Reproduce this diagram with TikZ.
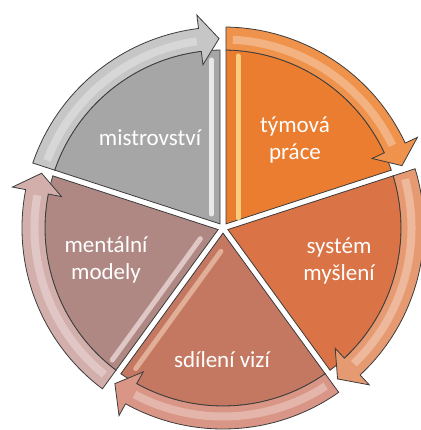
\documentclass[tikz,border=0pt]{standalone}
\usepackage{fontspec}
\usetikzlibrary{calc}
\newfontfamily\carlito{Carlito}
\definecolor{edgegray}{HTML}{3C3C3C}
\definecolor{grayfill}{HTML}{A6A6A6}
\definecolor{grayband}{HTML}{C6C6C6}
\definecolor{orangefill}{HTML}{EA7D30}
\definecolor{orangeband}{HTML}{EF924B}
\definecolor{rustfill}{HTML}{DA7346}
\definecolor{rustband}{HTML}{E69A72}
\definecolor{clayfill}{HTML}{C47862}
\definecolor{clayband}{HTML}{D99686}
\definecolor{mauvefill}{HTML}{AF8884}
\definecolor{mauveband}{HTML}{D3AFAC}
\begin{document}
\begin{tikzpicture}[x=1pt,y=1pt,
  slicebox/.style={draw=edgegray, line width=0.8pt},
  bandbox/.style={draw=edgegray, line width=0.8pt},
  sheen/.style={white, opacity=0.3, line width=8pt},
  bevel/.style={line width=5pt, opacity=0.75, line cap=round},
  label/.style={text=white, font=\carlito\fontsize{23}{27}\selectfont, align=center}]
\useasboundingbox (-223,-202) rectangle (197,228);
\pgfmathsetmacro\gapw{3}
\pgfmathsetmacro\rsl{178}
\pgfmathsetmacro\rmid{189.5}
\pgfmathsetmacro\bandw{11.5}
\pgfmathsetmacro\headw{25}
% one 72 degree segment: #1 lower angle, #2 fill, #3 arrow band colour
\newcommand\pieseg[3]{%
  \pgfmathsetmacro\da{asin(\gapw/\rsl)}
  \pgfmathsetmacro\dout{asin(\gapw/(\rmid+\bandw))}
  \pgfmathsetmacro\din{asin(\gapw/(\rmid-\bandw))}
  \path[slicebox, fill=#2]
    ({#1+36}:{\gapw/sin(36)}) -- ({#1+\da}:\rsl)
    arc[start angle={#1+\da}, end angle={#1+72-\da}, radius=\rsl] -- cycle;
  \path[bandbox, fill=#3]
    ({#1+72-\dout}:{\rmid+\bandw})
    arc[start angle={#1+72-\dout}, end angle={#1+7}, radius={\rmid+\bandw}]
    -- ({#1+7}:{\rmid+\headw}) -- ({#1+1.2}:\rmid) -- ({#1+7}:{\rmid-\headw})
    -- ({#1+7}:{\rmid-\bandw})
    arc[start angle={#1+7}, end angle={#1+72-\din}, radius={\rmid-\bandw}] -- cycle;
  \draw[sheen] ({#1+69}:{\rmid-1}) arc[start angle={#1+69}, end angle={#1+8}, radius={\rmid-1}];
}
\pieseg{18}{orangefill}{orangeband}
\pieseg{90}{grayfill}{grayband}
\pieseg{162}{mauvefill}{mauveband}
\pieseg{234}{clayfill}{clayband}
\pieseg{306}{rustfill}{rustband}
% bevel highlights beside the dividers
\draw[bevel, white] (-11.5,14) -- (-11.5,168);
\draw[bevel, yellow!60!orange!40!white] (15,10) -- (15,172);
\draw[bevel, opacity=0.6, white!80!pink] ($(234:22)+(-9.7,7.1)$) -- ($(234:172)+(-9.7,7.1)$);
\draw[bevel, opacity=0.5, white!80!orange] ($(234:20)+(9.7,-7.1)$) -- ($(234:165)+(9.7,-7.1)$);
% labels
\node[label] (mastery) at (-73,90) {mistrovství};
\node[label] (team) at (72,88) {týmová\\práce};
\node[label] (systems) at (116,-33) {systém\\myšlení};
\node[label] (vision) at (-1,-132) {sdílení vizí};
\node[label] (models) at (-117,-32) {mentální\\modely};
\end{tikzpicture}
\end{document}
